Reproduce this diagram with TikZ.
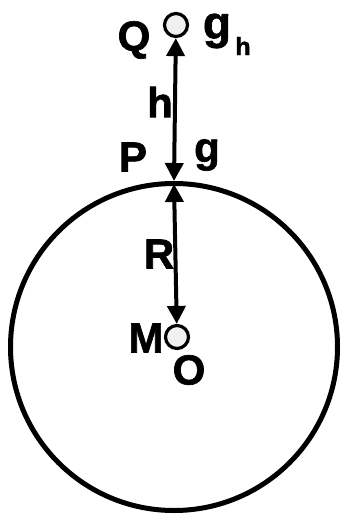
\documentclass[tikz,border=0pt]{standalone}
\usepackage{fontspec}
\setmainfont{Liberation Sans}[BoldFeatures={FakeBold=1.5}]
\usetikzlibrary{arrows.meta}

\begin{document}
\begin{tikzpicture}[x=1pt, y=-1pt,
    dot/.style={draw, circle, line width=3.2pt, fill=gray!12, minimum size=23pt, inner sep=0pt},
    lbl/.style={font=\bfseries\fontsize{42}{46}\selectfont, inner sep=0pt},
    arr/.style={line width=4pt, {Triangle[width=18pt,length=18pt]}-{Triangle[width=18pt,length=18pt]}}]
    \useasboundingbox (0,0) rectangle (342,516);

    % Earth
    \node[draw, circle, line width=5pt, minimum size=327pt, inner sep=0pt] (earth) at (174,347) {};

    % Points
    \node[dot] (Q) at (176,25) {};
    \node[dot] (O) at (177,337) {};

    % Distances
    \draw[arr] (Q) -- (earth.north);
    \draw[arr] ([yshift=-3pt]earth.north) -- (O);

    % Labels
    \node[lbl] (lQ) at (134,40) {Q};
    \node[lbl, font=\bfseries\fontsize{46}{50}\selectfont] (lgh) at (217,31) {g};
    \node[lbl, font=\bfseries\fontsize{25}{28}\selectfont] (lsub) at (243,46) {h};
    \node[lbl] (lh) at (160,102) {h};
    \node[lbl] (lP) at (133,157) {P};
    \node[lbl] (lg) at (207,155) {g};
    \node[lbl] (lR) at (159,254) {R};
    \node[lbl] (lM) at (146,338) {M};
    \node[lbl] (lO) at (189,370) {O};
\end{tikzpicture}
\end{document}
